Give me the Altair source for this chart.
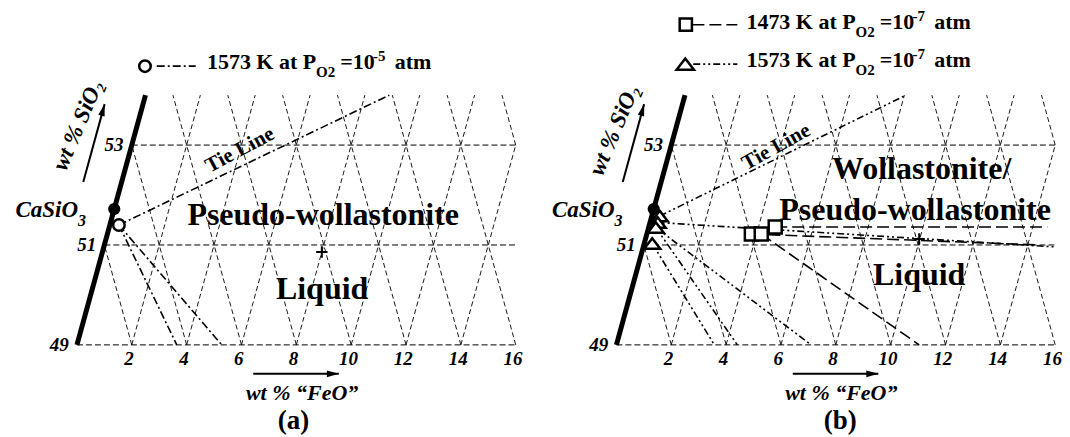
import altair as alt
import pandas as pd

# ---------------- data (wt% FeO, wt% SiO2) ----------------
SIO2_LEVELS = [49, 51, 53]
SIO2_TOP = 54
FEO_TICKS = [2, 4, 6, 8, 10, 12, 14, 16]
FEO_MAX = 16
CAO_LINES = [2, 4, 6, 8, 10, 12, 14, 16, 18]

CASIO3_FEO = 0.0
CASIO3_SIO2 = 51.72

# panel (a): 1573 K, PO2 = 1e-5 atm
A_OPEN_FEO = [0.33]
A_OPEN_SIO2 = [51.40]
A_END_FEO = [8.89, 3.64, 5.28]
A_END_SIO2 = [54.0, 49.0, 49.0]
A_PLUS_FEO = [8.0]
A_PLUS_SIO2 = [50.86]

# panel (b): triangles 1573 K, squares 1473 K, PO2 = 1e-7 atm
B_TRI_FEO = [0.29, 0.28, 0.26, 0.29]
B_TRI_SIO2 = [51.58, 51.45, 51.35, 51.03]
B_TRI_FROM = [0, 1, 2, 2, 3]
B_TRI_END_FEO = [8.06, 15.05, 7.10, 4.41, 3.57]
B_TRI_END_SIO2 = [54.0, 50.96, 49.0, 49.0, 49.0]

B_SQ_FEO = [3.81, 4.17, 4.61]
B_SQ_SIO2 = [51.22, 51.22, 51.36]
B_SQ_FROM = [0, 1, 2]
B_SQ_END_FEO = [14.41, 11.04, 14.53]
B_SQ_END_SIO2 = [51.0, 49.0, 51.36]
B_PLUS_FEO = [9.98]
B_PLUS_SIO2 = [51.12]

FONT = "Liberation Serif"
H = 421
Y_DOM = [47.28, 55.70]
A_XDOM = [-2.514, 16.867]
A_W = 532
B_XDOM = [-2.805, 16.211]
B_W = 522

DASHDOT = [8, 3, 2, 3]
DASHDOTDOT = [7, 3, 2, 3, 2, 3]
LONGDASH = [12, 5]
PLUS_PATH = "M-1,0L1,0M0,-1L0,1"
TRI_PATH = "M0,-0.65L1,0.65L-1,0.65Z"
HEAD_PATH = "M0,0L0.55,2L-0.55,2Z"


def to_u(feo, sio2):
    return feo + 0.5 * (sio2 - 49)


def grid_frames():
    h, d = [], []
    for s in SIO2_LEVELS:
        h.append(dict(u=to_u(0, s), s=s, u2=FEO_MAX, s2=s))
    for f in FEO_TICKS:  # iso-FeO lines
        s_end = min(SIO2_TOP, 49 + 2 * (FEO_MAX - f))
        if s_end > 49:
            d.append(dict(u=to_u(f, 49), s=49, u2=to_u(f, s_end), s2=s_end))
    for c in CAO_LINES:  # iso-CaO lines : FeO + SiO2 - 49 = c
        s_lo = max(49, 49 + 2 * (c - FEO_MAX))
        s_hi = min(SIO2_TOP, 49 + c)
        if s_hi > s_lo:
            d.append(dict(u=c - 0.5 * (s_lo - 49), s=s_lo,
                          u2=c - 0.5 * (s_hi - 49), s2=s_hi))
    return pd.DataFrame(h), pd.DataFrame(d)


def seg_frame(f_from, s_from, f_to, s_to):
    return pd.DataFrame(dict(u=[to_u(a, b) for a, b in zip(f_from, s_from)],
                             s=s_from,
                             u2=[to_u(a, b) for a, b in zip(f_to, s_to)],
                             s2=s_to))


def make_panel(xdom, width, lines, points, texts):
    X = lambda f: alt.X(f, type="quantitative", axis=None,
                        scale=alt.Scale(domain=xdom, nice=False, zero=False))
    Y = lambda f: alt.Y(f, type="quantitative", axis=None,
                        scale=alt.Scale(domain=Y_DOM, nice=False, zero=False))
    layers = []
    gh, gd = grid_frames()
    layers.append(alt.Chart(gh).mark_rule(color="black", strokeWidth=1, strokeDash=[6, 3])
                  .encode(x=X("u"), y=Y("s"), x2="u2", y2="s2"))
    layers.append(alt.Chart(gd).mark_rule(color="black", strokeWidth=0.9, strokeDash=[5, 3])
                  .encode(x=X("u"), y=Y("s"), x2="u2", y2="s2"))
    # thick CaO-SiO2 boundary
    bd = pd.DataFrame(dict(u=[to_u(0, 49)], s=[49], u2=[to_u(0, SIO2_TOP)], s2=[SIO2_TOP]))
    layers.append(alt.Chart(bd).mark_rule(color="black", strokeWidth=5)
                  .encode(x=X("u"), y=Y("s"), x2="u2", y2="s2"))
    # axis arrows
    ar = pd.DataFrame(dict(u=[to_u(-1.4, 52.26), 6.43], s=[52.26, 48.42],
                           u2=[to_u(-1.4, 53.82), 9.55], s2=[53.82, 48.42]))
    layers.append(alt.Chart(ar).mark_rule(color="black", strokeWidth=2)
                  .encode(x=X("u"), y=Y("s"), x2="u2", y2="s2"))
    heads = pd.DataFrame(dict(u=[to_u(-1.4, 53.82), 9.55], s=[53.82, 48.42], a=[15.3, 90]))
    layers.append(alt.Chart(heads).mark_point(shape=HEAD_PATH, size=144, filled=True,
                                              color="black", opacity=1)
                  .encode(x=X("u"), y=Y("s"), angle=alt.Angle("a:Q", scale=None)))
    # tick labels
    yl = pd.DataFrame(dict(u=[to_u(0, s) - 0.3 for s in SIO2_LEVELS], s=SIO2_LEVELS,
                           t=[str(s) for s in SIO2_LEVELS]))
    layers.append(alt.Chart(yl).mark_text(font=FONT, fontSize=19, fontWeight="bold",
                                          fontStyle="italic", align="right", baseline="middle")
                  .encode(x=X("u"), y=Y("s"), text="t:N"))
    xl = pd.DataFrame(dict(u=[f - 0.1 for f in FEO_TICKS], s=[48.71] * len(FEO_TICKS),
                           t=[str(f) for f in FEO_TICKS]))
    layers.append(alt.Chart(xl).mark_text(font=FONT, fontSize=19, fontWeight="bold",
                                          fontStyle="italic", align="center", baseline="middle")
                  .encode(x=X("u"), y=Y("s"), text="t:N"))
    # data lines
    for df, dash in lines:
        layers.append(alt.Chart(df).mark_rule(color="black", strokeWidth=1.6, strokeDash=dash)
                      .encode(x=X("u"), y=Y("s"), x2="u2", y2="s2"))
    # points
    for df, kw in points:
        layers.append(alt.Chart(df).mark_point(opacity=1, **kw)
                      .encode(x=X("u"), y=Y("s")))
    # texts
    for t, u, s, size, weight, style, align, base, ang in texts:
        df = pd.DataFrame(dict(u=[u], s=[s], t=[t]))
        layers.append(alt.Chart(df).mark_text(font=FONT, fontSize=size, fontWeight=weight,
                                              fontStyle=style, align=align, baseline=base,
                                              angle=ang, color="black")
                      .encode(x=X("u"), y=Y("s"), text="t:N"))
    return alt.layer(*layers).properties(width=width, height=H)


def pts(feo, sio2):
    return pd.DataFrame(dict(u=[to_u(a, b) for a, b in zip(feo, sio2)], s=sio2))


def legend_texts(u0, s0, head, sup):
    return [
        (head, u0, s0, 22, "bold", "normal", "left", "alphabetic", 0),
        ("O2", u0 + 3.98, s0 - 0.16, 15, "bold", "normal", "left", "alphabetic", 0),
        ("=10", u0 + 4.86, s0, 22, "bold", "normal", "left", "alphabetic", 0),
        (sup, u0 + 6.06, s0 + 0.17, 15, "bold", "normal", "left", "alphabetic", 0),
        ("atm", u0 + 6.85, s0, 22, "bold", "normal", "left", "alphabetic", 0),
    ]


B = "bold"
N = "normal"
I = "italic"

# ---------------- panel (a) ----------------
a_lines = [
    (seg_frame(A_OPEN_FEO * 3, A_OPEN_SIO2 * 3, A_END_FEO, A_END_SIO2), DASHDOT),
    (pd.DataFrame(dict(u=[2.91], s=[54.58], u2=[4.33], s2=[54.58])), DASHDOT),
]
a_points = [
    (pts([CASIO3_FEO], [CASIO3_SIO2]), dict(shape="circle", size=150, filled=True, color="black")),
    (pts(A_OPEN_FEO, A_OPEN_SIO2), dict(shape="circle", size=133, fill="white", stroke="black", strokeWidth=2.5)),
    (pd.DataFrame(dict(u=[2.48], s=[54.58])), dict(shape="circle", size=133, fill="white", stroke="black", strokeWidth=2.5)),
    (pts(A_PLUS_FEO, A_PLUS_SIO2), dict(shape=PLUS_PATH, size=130, filled=False, stroke="black", strokeWidth=2)),
]
a_texts = [
    ("Pseudo-wollastonite", 8.98, 51.40, 32, B, N, "center", "alphabetic", 0),
    ("Liquid", 8.94, 49.92, 32, B, N, "center", "alphabetic", 0),
    ("Tie Line", 5.94, 52.90, 21, B, N, "center", "middle", 332),
    ("CaSiO", 0.04, 51.56, 23, B, I, "right", "alphabetic", 0),
    ("3", 0.04, 51.38, 16, B, I, "left", "alphabetic", 0),
    ("wt % SiO\u2082", 0.04, 53.40, 23, B, I, "center", "middle", 293),
    ("wt % \u201cFeO\u201d", 8.21, 47.90, 22, B, I, "center", "alphabetic", 0),
    ("(a)", 7.90, 47.32, 27, B, N, "center", "alphabetic", 0),
] + legend_texts(4.74, 54.52, "1573 K at P", "-5")

panel_a = make_panel(A_XDOM, A_W, a_lines, a_points, a_texts)

# ---------------- panel (b) ----------------
b_lines = [
    (seg_frame([B_TRI_FEO[i] for i in B_TRI_FROM], [B_TRI_SIO2[i] for i in B_TRI_FROM],
               B_TRI_END_FEO, B_TRI_END_SIO2), DASHDOTDOT),
    (seg_frame([B_SQ_FEO[i] for i in B_SQ_FROM], [B_SQ_SIO2[i] for i in B_SQ_FROM],
               B_SQ_END_FEO, B_SQ_END_SIO2), LONGDASH),
    (pd.DataFrame(dict(u=[2.77], s=[55.41], u2=[4.41], s2=[55.41])), LONGDASH),
    (pd.DataFrame(dict(u=[2.80], s=[54.62], u2=[4.41], s2=[54.62])), DASHDOTDOT),
]
b_points = [
    (pts([CASIO3_FEO], [CASIO3_SIO2]), dict(shape="circle", size=150, filled=True, color="black")),
    (pts(B_TRI_FEO, B_TRI_SIO2), dict(shape=TRI_PATH, size=256, fill="white", stroke="black", strokeWidth=2.5)),
    (pts(B_SQ_FEO, B_SQ_SIO2), dict(shape="square", size=169, fill="white", stroke="black", strokeWidth=2.5)),
    (pd.DataFrame(dict(u=[2.53], s=[55.41])), dict(shape="square", size=150, fill="white", stroke="black", strokeWidth=2.5)),
    (pd.DataFrame(dict(u=[2.51], s=[54.62])), dict(shape=TRI_PATH, size=300, fill="white", stroke="black", strokeWidth=2.5)),
    (pts(B_PLUS_FEO, B_PLUS_SIO2), dict(shape=PLUS_PATH, size=130, filled=False, stroke="black", strokeWidth=2)),
]
b_texts = [
    ("Wollastonite/", 11.13, 52.32, 32, B, N, "center", "alphabetic", 0),
    ("Pseudo-wollastonite", 10.89, 51.50, 32, B, N, "center", "alphabetic", 0),
    ("Liquid", 11.04, 50.20, 32, B, N, "center", "alphabetic", 0),
    ("Tie Line", 5.83, 52.96, 21, B, N, "center", "middle", 331),
    ("CaSiO", -0.07, 51.56, 23, B, I, "right", "alphabetic", 0),
    ("3", -0.07, 51.38, 16, B, I, "left", "alphabetic", 0),
    ("wt % SiO\u2082", -0.07, 53.30, 23, B, I, "center", "middle", 293),
    ("wt % \u201cFeO\u201d", 8.20, 47.90, 22, B, I, "center", "alphabetic", 0),
    ("(b)", 8.16, 47.32, 27, B, N, "center", "alphabetic", 0),
] + legend_texts(4.74, 55.32, "1473 K at P", "-7") + legend_texts(4.74, 54.56, "1573 K at P", "-7")

panel_b = make_panel(B_XDOM, B_W, b_lines, b_points, b_texts)

chart = alt.hconcat(panel_a, panel_b, spacing=0, bounds="flush", padding=0).configure(
    background="white").configure_view(strokeWidth=0, stroke="transparent")

chart.save("out.html", embed_options={"renderer": "svg", "actions": False})
